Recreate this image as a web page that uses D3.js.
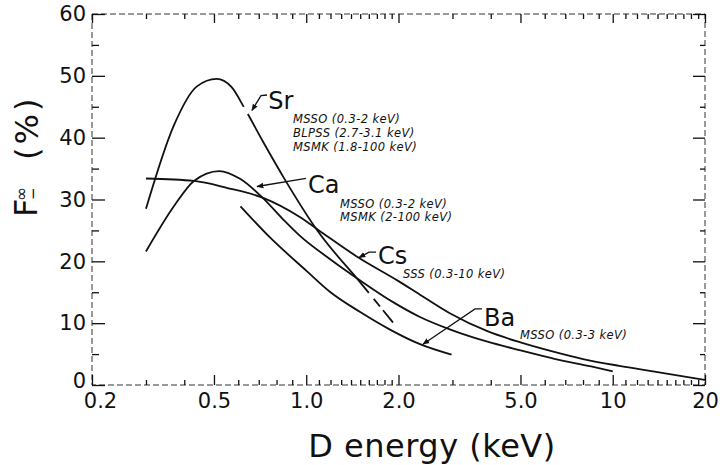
<!DOCTYPE html>
<html>
<head>
<meta charset="utf-8">
<script src="https://cdn.jsdelivr.net/npm/d3@7"></script>
<style>
  body { margin: 0; background: #fff; }
  svg { display: block; font-family: "DejaVu Sans", sans-serif; }
</style>
</head>
<body>
<svg id="chart" width="720" height="465"></svg>
<script>
// [energy keV, F (%)]
const sr = [[0.30, 28.5], [0.37, 42.0], [0.44, 48.3], [0.51, 49.5], [0.57, 48.2], [0.63, 44.7],
  [0.72, 39.5], [0.85, 33.3], [1.09, 24.9], [1.5, 16.6], [1.92, 10.1]];
const ca = [[0.30, 21.6], [0.37, 28.9], [0.43, 33.0], [0.52, 34.6], [0.61, 33.3], [0.72, 30.3],
  [0.84, 26.8], [0.95, 24.2], [1.2, 20.3], [1.5, 16.9], [1.92, 13.4], [2.35, 11.0],
  [2.94, 9.0], [3.9, 7.0], [5.0, 5.6], [6.5, 4.2], [8.5, 3.0], [10, 2.2]];
const cs = [[0.30, 33.4], [0.43, 33.0], [0.55, 31.9], [0.72, 30.3], [0.95, 27.2], [1.1, 25.0],
  [1.47, 20.7], [2.0, 16.8], [2.35, 14.6], [2.94, 11.6], [3.9, 8.7], [5.0, 6.9], [6.4, 5.4],
  [8.0, 4.2], [10.5, 3.1], [14, 2.1], [20, 0.8]];
const ba = [[0.61, 28.9], [0.76, 23.9], [1.0, 18.5], [1.2, 15.0], [1.5, 11.8], [1.87, 9.0],
  [2.35, 6.6], [2.98, 4.9]];

// breaks in the Sr trace (energy ranges)
const srGaps = [[0.625, 0.645], [1.6, 1.66], [1.74, 1.78]];

const xMajor = [0.2, 0.5, 1, 2, 5, 10, 20];
const xMajorLabels = ["0.2", "0.5", "1.0", "2.0", "5.0", "10", "20"];
const xMinor = [0.3, 0.4, 0.6, 0.7, 0.8, 0.9, 1.1, 1.2, 1.3, 1.4, 1.5, 1.6, 1.7, 1.8, 1.9,
  3, 4, 6, 7, 8, 9, 11, 12, 13, 14, 15, 16, 17, 18, 19];
const yMajor = [0, 10, 20, 30, 40, 50, 60];
const yMinor = [5, 15, 25, 35, 45, 55];

// element labels, their notes and leader lines (all in data units)
const notes = [
  { name: "Sr", at: [0.752, 44.7], leader: [[0.745, 46.9], [0.712, 46.8], [0.665, 44.4]],
    textAt: [0.905, 42.4], step: 14,
    lines: ["MSSO (0.3-2 keV)", "BLPSS (2.7-3.1 keV)", "MSMK (1.8-100 keV)"] },
  { name: "Ca", at: [1.013, 31.1], leader: [[0.998, 33.4], [0.691, 32.1]],
    textAt: [1.288, 28.6], step: 13,
    lines: ["MSSO (0.3-2 keV)", "MSMK (2-100 keV)"] },
  { name: "Cs", at: [1.715, 19.5], leader: [[1.689, 21.5], [1.603, 21.5], [1.486, 20.6]],
    textAt: [2.069, 17.3], step: 13,
    lines: ["SSS (0.3-10 keV)"] },
  { name: "Ba", at: [3.80, 9.5], leader: [[3.745, 12.3], [3.554, 12.3], [2.404, 6.6]],
    textAt: [4.98, 7.4], step: 13,
    lines: ["MSSO (0.3-3 keV)"] },
];

const plot = { left: 92, right: 705, top: 14, bottom: 385 };

const svg = d3.select("#chart");

const x = d3.scaleLog().domain([0.2, 20]).range([plot.left, plot.right]);
const y = d3.scaleLinear().domain([0, 60]).range([plot.bottom, plot.top]);

// frame (the scanned border is broken / dashed)
svg.append("rect")
  .attr("x", plot.left).attr("y", plot.top)
  .attr("width", plot.right - plot.left).attr("height", plot.bottom - plot.top)
  .attr("fill", "none")
  .attr("stroke", "#333")
  .attr("stroke-width", 1)
  .attr("stroke-dasharray", "6,3");

function styleAxis(g) {
  g.select(".domain").remove();
  g.selectAll(".tick line").attr("stroke", "#111").attr("stroke-width", 1.3);
  g.selectAll("text").attr("fill", "#111").attr("font-size", 21)
    .attr("font-family", "DejaVu Sans, sans-serif");
}

// bottom axis
svg.append("g")
  .attr("transform", `translate(0,${plot.bottom})`)
  .call(d3.axisBottom(x).tickValues(xMinor).tickSize(-5).tickFormat(""))
  .call(styleAxis);

svg.append("g")
  .attr("transform", `translate(0,${plot.bottom})`)
  .call(d3.axisBottom(x).tickValues(xMajor).tickSize(-10).tickPadding(8)
    .tickFormat((d, i) => xMajorLabels[i]))
  .call(styleAxis)
  .call((g) => g.selectAll("text").filter((d) => d === 0.2).attr("dx", 8));

// top axis
svg.append("g")
  .attr("transform", `translate(0,${plot.top})`)
  .call(d3.axisTop(x).tickValues(xMinor).tickSize(-5).tickFormat(""))
  .call(styleAxis);

svg.append("g")
  .attr("transform", `translate(0,${plot.top})`)
  .call(d3.axisTop(x).tickValues(xMajor).tickSize(-9).tickFormat(""))
  .call(styleAxis);

// left axis
svg.append("g")
  .attr("transform", `translate(${plot.left},0)`)
  .call(d3.axisLeft(y).tickValues(yMajor).tickSize(-13).tickPadding(6))
  .call(styleAxis)
  .call((g) => g.selectAll("text").filter((d) => d === 0).attr("dy", "0.1em"));

svg.append("g")
  .attr("transform", `translate(${plot.left},0)`)
  .call(d3.axisLeft(y).tickValues(yMinor).tickSize(-7).tickFormat(""))
  .call(styleAxis);

// right axis
svg.append("g")
  .attr("transform", `translate(${plot.right},0)`)
  .call(d3.axisRight(y).tickValues(yMajor).tickSize(-12).tickFormat(""))
  .call(styleAxis);

svg.append("g")
  .attr("transform", `translate(${plot.right},0)`)
  .call(d3.axisRight(y).tickValues(yMinor).tickSize(-5).tickFormat(""))
  .call(styleAxis);

// curves
const line = d3.line()
  .x((d) => x(d[0]))
  .y((d) => y(d[1]))
  .curve(d3.curveMonotoneX);

const curves = svg.append("g")
  .selectAll("path")
  .data([sr, ca, cs, ba])
  .join("path")
  .attr("d", line)
  .attr("fill", "none")
  .attr("stroke", "#111")
  .attr("stroke-width", 1.8);

// cut the small breaks into the Sr trace
const srPath = curves.filter((d) => d === sr).node();
const srLen = srPath.getTotalLength();

function lengthAtX(px) {
  let lo = 0, hi = srLen;
  for (let i = 0; i < 30; i++) {
    const mid = (lo + hi) / 2;
    if (srPath.getPointAtLength(mid).x < px) lo = mid; else hi = mid;
  }
  return lo;
}

const dashes = [];
let pos = 0;
srGaps.forEach(([a, b]) => {
  const la = lengthAtX(x(a));
  const lb = lengthAtX(x(b));
  dashes.push(la - pos, lb - la);
  pos = lb;
});
dashes.push(srLen - pos + 10, 0);
d3.select(srPath).attr("stroke-dasharray", dashes.join(","));

// arrow marker for leaders
svg.append("defs").append("marker")
  .attr("id", "arrow")
  .attr("viewBox", "0 0 10 10")
  .attr("refX", 9).attr("refY", 5)
  .attr("markerWidth", 7).attr("markerHeight", 7)
  .attr("markerUnits", "userSpaceOnUse")
  .attr("orient", "auto")
  .append("path")
  .attr("d", "M0,1L10,5L0,9Z")
  .attr("fill", "#111");

const leaderLine = d3.line()
  .x((d) => x(d[0]))
  .y((d) => y(d[1]));

const ann = svg.append("g");

notes.forEach((n) => {
  ann.append("path")
    .attr("d", leaderLine(n.leader))
    .attr("fill", "none")
    .attr("stroke", "#111")
    .attr("stroke-width", 1.3)
    .attr("marker-end", "url(#arrow)");

  ann.append("text")
    .attr("x", x(n.at[0]))
    .attr("y", y(n.at[1]))
    .attr("font-size", 24)
    .attr("fill", "#111")
    .text(n.name);

  n.lines.forEach((t, i) => {
    ann.append("text")
      .attr("x", x(n.textAt[0]))
      .attr("y", y(n.textAt[1]) + i * n.step)
      .attr("font-size", 11.5)
      .attr("font-style", "italic")
      .attr("letter-spacing", 0.4)
      .attr("fill", "#111")
      .text(t);
  });
});

// axis titles
svg.append("text")
  .attr("x", 432)
  .attr("y", 457)
  .attr("text-anchor", "middle")
  .attr("font-size", 32)
  .attr("letter-spacing", 0.5)
  .attr("fill", "#111")
  .text("D energy (keV)");

const yTitle = svg.append("g").attr("fill", "#111");

yTitle.append("text")
  .attr("transform", "translate(37,217) rotate(-90)")
  .attr("font-size", 32)
  .text("F");

yTitle.append("text")
  .attr("transform", "translate(27,201) rotate(-90)")
  .attr("font-size", 17)
  .text("∞");

yTitle.append("text")
  .attr("transform", "translate(38,200) rotate(-90)")
  .attr("font-size", 15)
  .text("−");

yTitle.append("text")
  .attr("transform", "translate(38,160) rotate(-90)")
  .attr("font-size", 32)
  .attr("letter-spacing", 3)
  .text("(%)");
</script>
</body>
</html>
